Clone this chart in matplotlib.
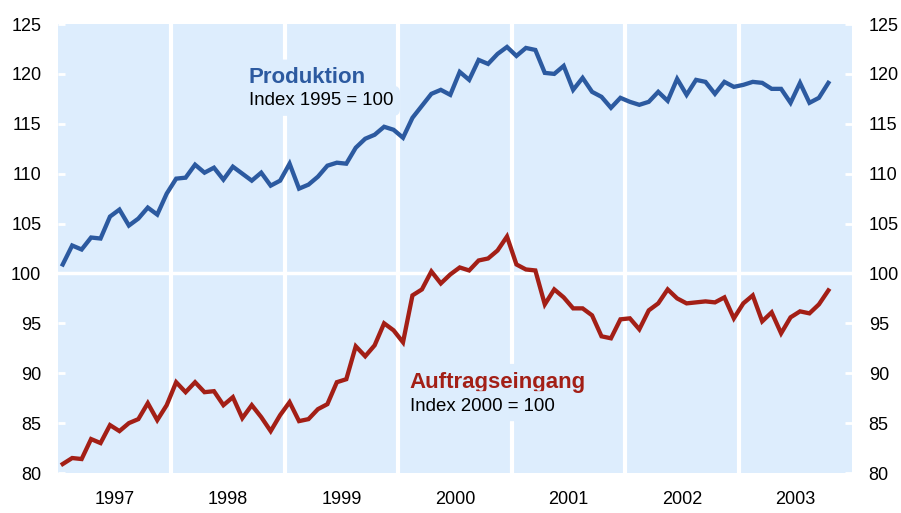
import matplotlib
matplotlib.use("Agg")
import matplotlib.pyplot as plt

plt.rcParams["font.family"] = ["Liberation Sans", "DejaVu Sans"]

# monthly values, Jan 1997 .. Oct 2003
years = ["1997", "1998", "1999", "2000", "2001", "2002", "2003"]

produktion = [
    100.9, 102.8, 102.4, 103.6, 103.5, 105.7, 106.4, 104.8, 105.5, 106.6, 105.9, 108.0,
    109.5, 109.6, 110.9, 110.1, 110.6, 109.4, 110.7, 110.0, 109.3, 110.1, 108.8, 109.3,
    111.0, 108.5, 108.9, 109.7, 110.8, 111.1, 111.0, 112.6, 113.5, 113.9, 114.7, 114.4,
    113.6, 115.6, 116.8, 118.0, 118.4, 117.9, 120.2, 119.4, 121.4, 121.0, 122.0, 122.7,
    121.8, 122.6, 122.4, 120.1, 120.0, 120.8, 118.4, 119.6, 118.2, 117.7, 116.6, 117.6,
    117.2, 116.9, 117.2, 118.2, 117.3, 119.5, 117.9, 119.4, 119.2, 118.0, 119.2, 118.7,
    118.9, 119.2, 119.1, 118.5, 118.5, 117.1, 119.1, 117.1, 117.6, 119.1,
]

auftraege = [
    80.9, 81.5, 81.4, 83.4, 83.0, 84.8, 84.2, 85.0, 85.4, 87.0, 85.3, 86.8,
    89.1, 88.1, 89.1, 88.1, 88.2, 86.8, 87.6, 85.5, 86.8, 85.6, 84.2, 85.8,
    87.1, 85.2, 85.4, 86.4, 86.9, 89.1, 89.4, 92.7, 91.7, 92.8, 95.0, 94.3,
    93.1, 97.8, 98.4, 100.2, 99.0, 99.9, 100.6, 100.3, 101.3, 101.5, 102.3, 103.7,
    100.9, 100.4, 100.3, 96.9, 98.4, 97.6, 96.5, 96.5, 95.8, 93.7, 93.5, 95.4,
    95.5, 94.4, 96.3, 97.0, 98.4, 97.5, 97.0, 97.1, 97.2, 97.1, 97.6, 95.5,
    97.0, 97.8, 95.2, 96.1, 94.0, 95.6, 96.2, 96.0, 96.9, 98.3,
]

yticks = [80, 85, 90, 95, 100, 105, 110, 115, 120, 125]

BG = "#ddedfd"
BLUE = "#2c5aa0"
RED = "#a31f16"


def main():
    fig = plt.figure(figsize=(9.01, 5.13), dpi=100)
    ax = fig.add_axes([58 / 901, 40 / 513, 794 / 901, 449 / 513])
    ax.set_facecolor(BG)
    for s in ax.spines.values():
        s.set_visible(False)

    # year separators and the 100 line
    for k in range(1, len(years)):
        ax.axvline(12 * k - 0.5, color="white", lw=3, zorder=1)
    ax.axhline(100, color="white", lw=2.5, zorder=1)

    x1 = range(len(produktion))
    x2 = range(len(auftraege))
    ax.plot(x1, produktion, color=BLUE, lw=3.1, zorder=4, solid_joinstyle="miter")
    ax.plot(x2, auftraege, color=RED, lw=3.1, zorder=4, solid_joinstyle="miter")

    ax.set_xlim(-0.5, 12 * len(years) - 0.5)
    ax.set_ylim(80, 125)

    ax.set_xticks([12 * k + 5.5 for k in range(len(years))])
    ax.set_xticklabels(years)
    ax.tick_params(axis="x", length=0, pad=13, labelsize=13)

    ax.set_yticks(yticks)
    ax.set_yticklabels([str(v) for v in yticks])
    ax.tick_params(axis="y", direction="in", length=5, width=2, color="white",
                   labelsize=13, pad=12, left=True, right=True,
                   labelleft=True, labelright=True)

    box = dict(boxstyle="round,pad=0.35", fc=BG, ec="none")
    ax.text(19.7, 119.6, "Produktion", color=BLUE, fontsize=16, fontweight="bold",
            va="center", ha="left", bbox=box, zorder=2)
    ax.text(19.7, 117.3, "Index 1995 = 100", color="black", fontsize=13.4,
            va="center", ha="left", bbox=box, zorder=2)
    ax.text(36.7, 89.1, "Auftragseingang", color=RED, fontsize=16, fontweight="bold",
            va="center", ha="left", bbox=box, zorder=2)
    ax.text(36.7, 86.7, "Index 2000 = 100", color="black", fontsize=13.4,
            va="center", ha="left", bbox=box, zorder=2)

    fig.savefig("out.png", dpi=100)


if __name__ == "__main__":
    main()
